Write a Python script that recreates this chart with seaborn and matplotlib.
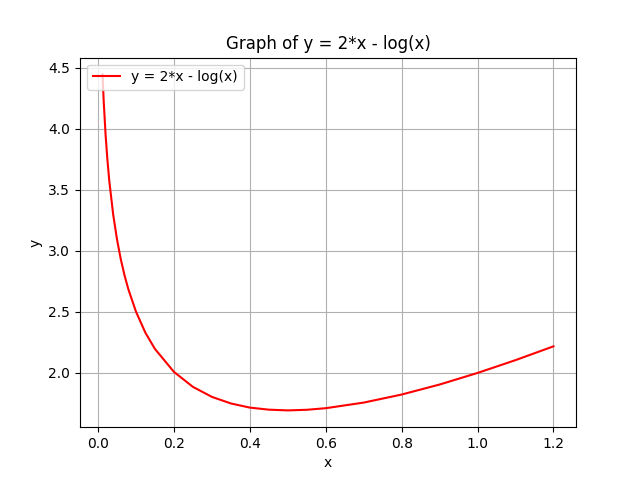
import matplotlib
matplotlib.use("Agg")
import matplotlib.pyplot as plt
import seaborn as sns
import pandas as pd

x_vals = [0.012, 0.015, 0.02, 0.025, 0.03, 0.04, 0.05, 0.06, 0.07, 0.08, 0.1, 0.125, 0.15,
          0.2, 0.25, 0.3, 0.35, 0.4, 0.45, 0.5, 0.55, 0.6, 0.7, 0.8, 0.9, 1.0, 1.1, 1.2]
y_vals = [4.447, 4.230, 3.952, 3.739, 3.567, 3.299, 3.096, 2.933, 2.799, 2.686, 2.503, 2.329, 2.197,
          2.009, 1.886, 1.804, 1.750, 1.716, 1.699, 1.693, 1.698, 1.711, 1.757, 1.823, 1.905, 2.0, 2.105, 2.218]
label = "y = 2*x - log(x)"

df = pd.DataFrame({"x": x_vals, "y": y_vals})
fig, ax = plt.subplots(figsize=(6.4, 4.8), dpi=100)
sns.lineplot(data=df, x="x", y="y", color="red", label=label, ax=ax)
ax.set_title("Graph of y = 2*x - log(x)")
ax.set_xlabel("x")
ax.set_ylabel("y")
ax.grid(True)
ax.legend(loc="upper left")
fig.savefig("out.png")
